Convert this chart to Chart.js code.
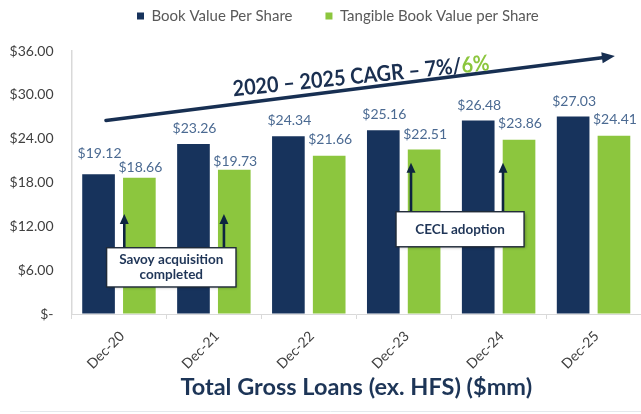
<!DOCTYPE html>
<html><head><meta charset="utf-8">
<script src="https://cdn.jsdelivr.net/npm/chart.js@4"></script>
<style>html,body{margin:0;padding:0;background:#fff;overflow:hidden}</style>
</head><body>
<canvas id="c" width="641" height="414"></canvas>
<script>
// ---- data ----
const categories = ['Dec-20', 'Dec-21', 'Dec-22', 'Dec-23', 'Dec-24', 'Dec-25'];
const bookValue = [19.12, 23.26, 24.34, 25.16, 26.48, 27.03];
const tangibleBookValue = [18.66, 19.73, 21.66, 22.51, 23.86, 24.41];
const seriesNames = ['Book Value Per Share', 'Tangible Book Value per Share'];
const yTickValues = [0, 6, 12, 18, 24, 30, 36];
const xTitle = 'Total Gross Loans (ex. HFS) ($mm)';
const cagrMain = '2020 – 2025 CAGR – 7%/';
const cagrGreen = '6%';
const noteSavoy = ['Savoy acquisition', 'completed'];
const noteCecl = ['CECL adoption'];

// ---- styling (not data) ----
const NAVY = '#17335c', GREEN = '#8cc63e';
const FONT = 'Lato, "Open Sans", "DejaVu Sans", sans-serif';
const labelLift = [[20.5, 15.5, 15.5, 15.5, 15.5, 15.5], [10.5, 8.5, 16, 15, 16, 16]];

function fmt(v) { return v === 0 ? '$-' : '$' + v.toFixed(2); }

const layoutFix = {
  id: 'layoutFix',
  beforeLayout(chart) {
    const lg = chart.legend;
    if (lg && !lg._fixed) {
      const f = lg.fit.bind(lg);
      lg.fit = function () { f(); this.height = 51; };
      lg._fixed = true;
    }
  },
  afterLayout(chart) {
    const lg = chart.legend;
    if (!lg || !lg.lineWidths) return;
    const pad = lg.options.labels.padding;
    const cur = (lg.left + pad + lg.right - lg.lineWidths[0]) / 2;
    const s = 137 - cur;
    lg.left += s; lg.right += s;
    lg.top = 16 - pad - 7.5;
  }
};

const decor = {
  id: 'decor',
  afterDatasetsDraw(chart) {
    const ctx = chart.ctx;
    const xs = chart.scales.x, ys = chart.scales.y;
    const catW = xs.getPixelForValue(1) - xs.getPixelForValue(0);
    const X = f => xs.getPixelForValue(0) + f * catW;
    const Y = v => ys.getPixelForValue(v);

    // value labels
    ctx.save();
    ctx.font = '14px ' + FONT;
    ctx.fillStyle = '#4b6a92';
    ctx.textAlign = 'center';
    ctx.textBaseline = 'middle';
    chart.data.datasets.forEach((ds, di) => {
      const meta = chart.getDatasetMeta(di);
      meta.data.forEach((bar, i) => {
        ctx.fillText(fmt(ds.data[i]), bar.x + 1, bar.y - labelLift[di][i]);
      });
    });
    ctx.restore();

    // big CAGR arrow
    const ax0 = X(-0.137), ay0 = Y(26.5), ax1 = X(5.225), ay1 = Y(35.3);
    const ang = Math.atan2(ay1 - ay0, ax1 - ax0);
    ctx.save();
    ctx.strokeStyle = '#172f52'; ctx.fillStyle = '#172f52';
    ctx.lineWidth = 3.5; ctx.lineCap = 'round';
    const hl = 13, hw = 5.5;
    const bx = ax1 - hl * Math.cos(ang), by = ay1 - hl * Math.sin(ang);
    ctx.beginPath(); ctx.moveTo(ax0, ay0); ctx.lineTo(bx + 2 * Math.cos(ang), by + 2 * Math.sin(ang)); ctx.stroke();
    ctx.beginPath();
    ctx.moveTo(ax1, ay1);
    ctx.lineTo(bx - hw * Math.sin(ang), by + hw * Math.cos(ang));
    ctx.lineTo(bx + hw * Math.sin(ang), by - hw * Math.cos(ang));
    ctx.closePath(); ctx.fill();
    ctx.restore();

    // CAGR text
    ctx.save();
    let fs = 23;
    ctx.font = 'bold ' + fs + 'px ' + FONT;
    let w = ctx.measureText(cagrMain + cagrGreen).width;
    fs = fs * 258 / w;
    ctx.font = 'bold ' + fs.toFixed(2) + 'px ' + FONT;
    const wMain = ctx.measureText(cagrMain).width;
    const wAll = ctx.measureText(cagrMain + cagrGreen).width;
    ctx.translate(X(2.55), Y(32.55));
    ctx.rotate(-5.8 * Math.PI / 180);
    ctx.scale(1, 1.1);
    ctx.textBaseline = 'middle';
    ctx.textAlign = 'left';
    ctx.fillStyle = '#1a2f50';
    ctx.fillText(cagrMain, -wAll / 2, 0);
    ctx.fillStyle = GREEN;
    ctx.fillText(cagrGreen, -wAll / 2 + wMain, 0);
    ctx.restore();

    // note boxes and arrows
    function upArrow(x, yTip, yBase) {
      ctx.save();
      ctx.strokeStyle = '#0e2540'; ctx.fillStyle = '#0e2540';
      ctx.lineWidth = 2.6;
      ctx.beginPath(); ctx.moveTo(x, yBase); ctx.lineTo(x, yTip + 8); ctx.stroke();
      ctx.beginPath(); ctx.moveTo(x, yTip); ctx.lineTo(x - 4.5, yTip + 10); ctx.lineTo(x + 4.5, yTip + 10); ctx.closePath(); ctx.fill();
      ctx.restore();
    }
    function noteBox(x0, x1, yTop, yBot, lines) {
      ctx.save();
      ctx.shadowColor = 'rgba(0,0,0,0.35)'; ctx.shadowBlur = 3; ctx.shadowOffsetX = 1.5; ctx.shadowOffsetY = 1.5;
      ctx.fillStyle = '#ffffff';
      ctx.fillRect(x0, yTop, x1 - x0, yBot - yTop);
      ctx.restore();
      ctx.save();
      ctx.strokeStyle = '#1f2a38'; ctx.lineWidth = 1.4;
      ctx.strokeRect(x0, yTop, x1 - x0, yBot - yTop);
      ctx.font = 'bold 13.5px ' + FONT;
      ctx.fillStyle = '#1f3557';
      ctx.textAlign = 'center'; ctx.textBaseline = 'middle';
      const cx = (x0 + x1) / 2, cy = (yTop + yBot) / 2, lh = 15;
      lines.forEach((t, k) => ctx.fillText(t, cx, cy + (k - (lines.length - 1) / 2) * lh));
      ctx.restore();
    }
    const sTop = Y(9.07), sBot = Y(3.7);
    upArrow(X(0.056), Y(13.7), sTop);
    upArrow(X(1.106), Y(13.7), sTop);
    noteBox(X(-0.13), X(1.233), sTop, sBot, noteSavoy);
    const cTop = Y(14.0), cBot = Y(9.2);
    upArrow(X(3.077), Y(20.7), cTop);
    upArrow(X(4.046), Y(20.7), cTop);
    noteBox(X(2.919), X(4.268), cTop, cBot, noteCecl);

    // faint bottom rule
    ctx.save();
    ctx.strokeStyle = '#e4e8ec'; ctx.lineWidth = 1;
    ctx.beginPath(); ctx.moveTo(20, 411.5); ctx.lineTo(641, 411.5); ctx.stroke();
    ctx.restore();
  }
};

new Chart(document.getElementById('c'), {
  type: 'bar',
  data: {
    labels: categories,
    datasets: [
      { label: seriesNames[0], data: bookValue, backgroundColor: NAVY, borderWidth: 0,
        categoryPercentage: 0.86, barPercentage: 0.8 },
      { label: seriesNames[1], data: tangibleBookValue, backgroundColor: GREEN, borderWidth: 0,
        categoryPercentage: 0.86, barPercentage: 0.8 }
    ]
  },
  options: {
    responsive: false,
    animation: false,
    devicePixelRatio: 1,
    layout: { padding: 0 },
    plugins: {
      legend: {
        position: 'top',
        labels: { boxWidth: 7, boxHeight: 7, padding: 33, color: '#595959',
          font: { family: FONT, size: 15 } }
      },
      tooltip: { enabled: false }
    },
    scales: {
      x: {
        afterFit(s) { s.height = 100; },
        grid: { display: true, drawOnChartArea: false, offset: true, tickLength: 5, color: '#d9d9d9' },
        border: { color: '#d9d9d9', width: 1 },
        ticks: { autoSkip: false, minRotation: 45, maxRotation: 45, padding: 9, labelOffset: 3,
          color: '#404040', font: { family: FONT, size: 14 } },
        title: { display: true, text: xTitle, color: '#1d3557',
          font: { family: FONT, size: 23.5, weight: 'bold' }, padding: { top: 0, bottom: 12 } }
      },
      y: {
        min: 0, max: 36,
        afterFit(s) { s.width = 71.5; },
        afterBuildTicks(s) { s.ticks = yTickValues.map(v => ({ value: v })); },
        grid: { display: true, drawOnChartArea: false, drawTicks: false },
        border: { color: '#d9d9d9', width: 1.5 },
        ticks: { padding: 18, color: '#404040', font: { family: FONT, size: 14 },
          callback: v => fmt(v) }
      }
    }
  },
  plugins: [layoutFix, decor]
});
</script>
</body></html>
